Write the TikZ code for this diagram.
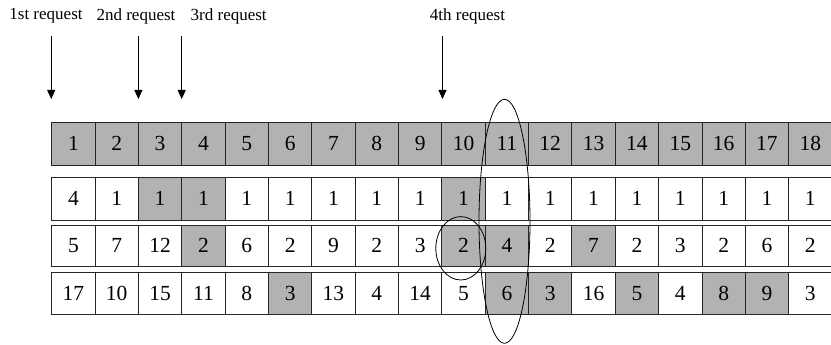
\documentclass[tikz,border=0pt]{standalone}
\usepackage{fontspec}
\setmainfont{Liberation Serif}
\usetikzlibrary{arrows.meta}
\definecolor{G}{gray}{0.70}
\definecolor{W}{gray}{1}
\tikzset{
  cell/.style={draw=black!85, line width=0.9pt, minimum width=43.35pt, inner sep=0pt, font=\fontsize{21.5}{21.5}\selectfont},
  reqlabel/.style={font=\fontsize{17}{17}\selectfont, inner sep=0pt},
  reqarrow/.style={line width=0.9pt, -{Triangle[length=9pt,width=8pt]}},
  ring/.style={line width=0.8pt}
}
\begin{document}
\begin{tikzpicture}[x=1pt,y=-1pt]
\useasboundingbox (0,0) rectangle (831,345);
% row 1
\foreach \v/\f [count=\i] in {1/G,2/G,3/G,4/G,5/G,6/G,7/G,8/G,9/G,10/G,11/G,12/G,13/G,14/G,15/G,16/G,17/G,18/G}
  \node[cell, minimum height=42.3pt, fill=\f] (a\i) at ({51.7+(\i-0.5)*43.35},143.8) {\v};
% row 2
\foreach \v/\f [count=\i] in {4/W,1/W,1/G,1/G,1/W,1/W,1/W,1/W,1/W,1/G,1/W,1/W,1/W,1/W,1/W,1/W,1/W,1/W}
  \node[cell, minimum height=42.3pt, fill=\f] (b\i) at ({51.7+(\i-0.5)*43.35},198.8) {\v};
% row 3
\foreach \v/\f [count=\i] in {5/W,7/W,12/W,2/G,6/W,2/W,9/W,2/W,3/W,2/G,4/G,2/W,7/G,2/W,3/W,2/W,6/W,2/W}
  \node[cell, minimum height=41.7pt, fill=\f] (c\i) at ({51.7+(\i-0.5)*43.35},245.8) {\v};
% row 4
\foreach \v/\f [count=\i] in {17/W,10/W,15/W,11/W,8/W,3/G,13/W,4/W,14/W,5/W,6/G,3/G,16/W,5/G,4/W,8/G,9/G,3/W}
  \node[cell, minimum height=41.7pt, fill=\f] (d\i) at ({51.7+(\i-0.5)*43.35},293.2) {\v};
% request labels
\node[reqlabel] (l1) at (46,16) {1st request};
\node[reqlabel] (l2) at (136,16) {2nd request};
\node[reqlabel] (l3) at (228.7,16) {3rd request};
\node[reqlabel] (l4) at (467.5,16) {4th request};
% arrows
\coordinate (s1) at (51.2,36);   \coordinate (e1) at (51.2,99);
\coordinate (s2) at (138.4,36);  \coordinate (e2) at (138.4,99);
\coordinate (s3) at (181.7,36);  \coordinate (e3) at (181.7,99);
\coordinate (s4) at (442.5,36);  \coordinate (e4) at (442.5,99);
\draw[reqarrow] (s1) -- (e1);
\draw[reqarrow] (s2) -- (e2);
\draw[reqarrow] (s3) -- (e3);
\draw[reqarrow] (s4) -- (e4);
% ellipses
\draw[ring] (504.5,221.3) ellipse [x radius=25.5, y radius=122];
\draw[ring] (460.8,248.3) ellipse [x radius=25, y radius=31.7];
\end{tikzpicture}
\end{document}
